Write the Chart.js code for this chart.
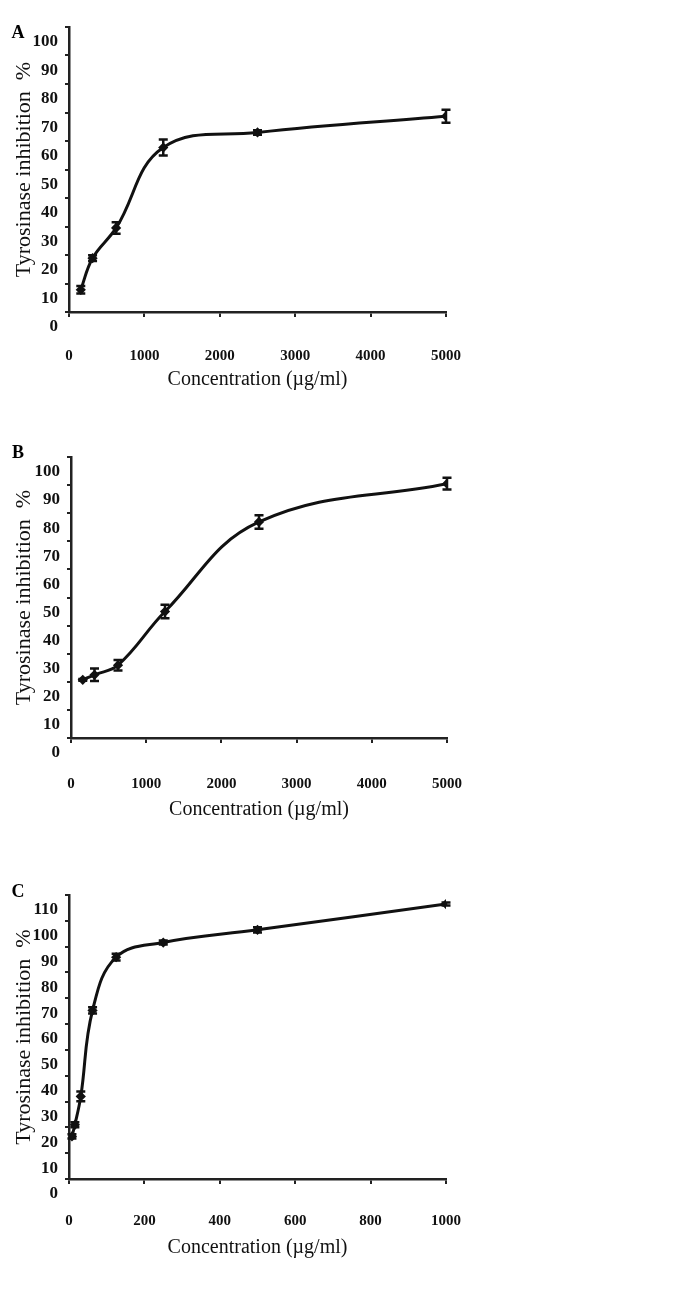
<!DOCTYPE html>
<html>
<head>
<meta charset="utf-8">
<script src="https://cdn.jsdelivr.net/npm/chart.js@4.4.1/dist/chart.umd.min.js"></script>
<style>
  body { margin: 0; background: #fff; }
  .panel { position: absolute; left: 0; }
</style>
</head>
<body>
<div class="panel" style="top:0px"><canvas id="chartA" width="688" height="430"></canvas></div>
<div class="panel" style="top:430px"><canvas id="chartB" width="688" height="430"></canvas></div>
<div class="panel" style="top:860px"><canvas id="chartC" width="688" height="433"></canvas></div>
<script>
// panel A
const concA = [156.25, 312.5, 625, 1250, 2500, 5000];
const inhibA = [7.8, 18.9, 29.5, 57.7, 63.0, 68.7];
const errA = [1.3, 1.0, 2.0, 2.8, 0.8, 2.3];

// panel B
const concB = [156.25, 312.5, 625, 1250, 2500, 5000];
const inhibB = [20.7, 22.5, 25.9, 45.0, 76.9, 90.5];
const errB = [0.3, 2.2, 1.9, 2.4, 2.4, 2.1];

// panel C
const concC = [7.8, 15.6, 31.25, 62.5, 125, 250, 500, 1000];
const inhibC = [16.5, 21.0, 32.0, 65.3, 85.9, 91.6, 96.5, 106.5];
const errC = [0.8, 1.0, 1.9, 1.2, 1.3, 0.8, 1.0, 0.6];

const xTitle = 'Concentration (\u00b5g/ml)';
const yTitle = 'Tyrosinase inhibition  %';

const serif = "'Liberation Serif', 'Times New Roman', serif";

// draws the I-shaped error bars through the chart scales
const errorBars = {
  id: 'errorBars',
  afterDatasetsDraw(chart) {
    const ctx = chart.ctx;
    const xs = chart.scales.x, ys = chart.scales.y;
    chart.data.datasets.forEach(ds => {
      if (!ds.errors) return;
      ds.data.forEach((p, i) => {
        const e = ds.errors[i];
        const px = xs.getPixelForValue(p.x);
        const top = ys.getPixelForValue(p.y + e);
        const bot = ys.getPixelForValue(p.y - e);
        ctx.save();
        ctx.strokeStyle = '#111';
        ctx.lineWidth = 2.5;
        ctx.beginPath();
        ctx.moveTo(px, top); ctx.lineTo(px, bot);
        ctx.moveTo(px - 4.5, top); ctx.lineTo(px + 4.5, top);
        ctx.moveTo(px - 4.5, bot); ctx.lineTo(px + 4.5, bot);
        ctx.stroke();
        ctx.restore();
      });
    });
  }
};

const panelLabel = {
  id: 'panelLabel',
  afterDraw(chart, args, opts) {
    const ctx = chart.ctx;
    ctx.save();
    ctx.fillStyle = '#000';
    ctx.font = 'bold 18px ' + serif;
    ctx.textAlign = 'center';
    ctx.textBaseline = 'middle';
    ctx.fillText(opts.text, opts.x, opts.y);
    ctx.restore();
  }
};

function makeChart(id, cfg) {
  const points = cfg.conc.map((c, i) => ({ x: c, y: cfg.vals[i] }));
  new Chart(document.getElementById(id), {
    type: 'line',
    data: {
      datasets: [{
        data: points,
        errors: cfg.errs,
        borderColor: '#111',
        borderWidth: 3,
        tension: 0.4,
        pointStyle: 'rectRot',
        pointRadius: 3,
        pointBackgroundColor: '#111',
        pointBorderColor: '#111'
      }]
    },
    options: {
      responsive: false,
      animation: false,
      layout: { padding: cfg.pad },
      plugins: {
        legend: { display: false },
        tooltip: { enabled: false },
        panelLabel: cfg.label
      },
      scales: {
        x: {
          type: 'linear',
          min: 0, max: cfg.xMax,
          border: { color: '#222', width: 2.5 },
          grid: { drawOnChartArea: false, color: '#222', lineWidth: 2, tickLength: 5 },
          ticks: {
            stepSize: cfg.xStep, color: '#111', padding: cfg.xPad,
            callback: v => String(v),
            font: { family: serif, size: 15, weight: 'bold' }
          },
          title: {
            display: true, text: xTitle, color: '#111', padding: 0,
            font: { family: serif, size: 20 }
          },
          afterFit: s => { s.height = cfg.xHeight; }
        },
        y: {
          min: 0, max: cfg.yMax,
          border: { color: '#222', width: 2.5 },
          grid: { drawOnChartArea: false, color: '#222', lineWidth: 2, tickLength: 4 },
          ticks: {
            stepSize: 10, color: '#111', padding: 7, labelOffset: 15,
            callback: v => String(v),
            font: { family: serif, size: 17, weight: 'bold' }
          },
          title: {
            display: true, text: yTitle, color: '#111', padding: { top: 11, bottom: 0 },
            font: { family: serif, size: 22 }
          },
          afterFit: s => { s.width = cfg.yWidth; }
        }
      }
    },
    plugins: [errorBars, panelLabel]
  });
}

makeChart('chartA', {
  conc: concA, vals: inhibA, errs: errA,
  xMax: 5000, xStep: 1000, yMax: 100,
  pad: { top: 27, right: 242, bottom: 38, left: 0 },
  xHeight: 80, xPad: 30, yWidth: 69,
  label: { text: 'A', x: 18, y: 33 }
});

makeChart('chartB', {
  conc: concB, vals: inhibB, errs: errB,
  xMax: 5000, xStep: 1000, yMax: 100,
  pad: { top: 27, right: 241, bottom: 38, left: 0 },
  xHeight: 84, xPad: 32, yWidth: 71,
  label: { text: 'B', x: 18, y: 23 }
});

makeChart('chartC', {
  conc: concC, vals: inhibC, errs: errC,
  xMax: 1000, xStep: 200, yMax: 110,
  pad: { top: 35, right: 242, bottom: 33, left: 0 },
  xHeight: 81, xPad: 28, yWidth: 69,
  label: { text: 'C', x: 18, y: 32 }
});
</script>
</body>
</html>
